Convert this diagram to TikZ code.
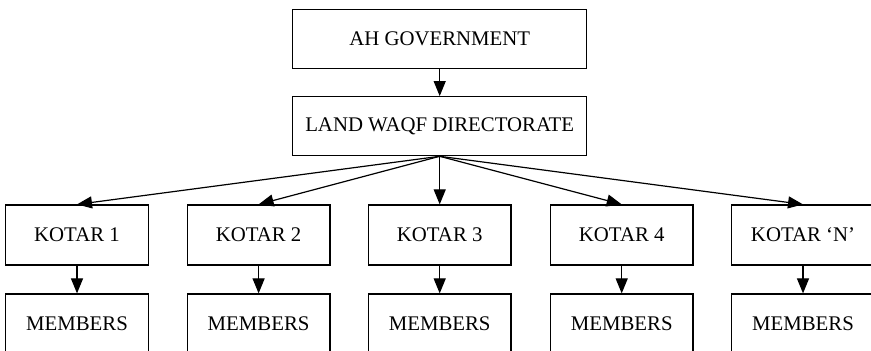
\documentclass[tikz,border=0pt]{standalone}
\usepackage{fontspec}
\setmainfont{Liberation Serif}
\usetikzlibrary{arrows.meta}
\begin{document}
\begin{tikzpicture}[x=0.5pt,y=-0.5pt,
  box/.style={draw,line width=0.6pt,inner sep=0pt,font=\fontsize{10.4}{12}\selectfont},
  wide/.style={box,minimum width=147pt,minimum height=29.5pt},
  unit/.style={box,minimum width=71.3pt,minimum height=30pt},
  link/.style={line width=0.6pt,-{Triangle[length=7.5pt,width=6pt]}}]
\useasboundingbox (0,0) rectangle (871,351);
\clip (0,0) rectangle (871,351);
\node[wide] (gov) at (439.7,38.8) {AH GOVERNMENT};
\node[wide] (dir) at (439.7,126.2) {LAND WAQF DIRECTORATE};
\foreach \i/\x/\t in {1/77/KOTAR 1, 2/258.6/KOTAR 2, 3/439.7/KOTAR 3, 4/621.7/KOTAR 4, 5/803/KOTAR ‘N’}{
  \node[unit] (k\i) at (\x,235) {\t};
  \node[unit] (m\i) at (\x,324) {MEMBERS};
  \draw[link] (dir.south) -- (k\i.north);
  \draw[link] (k\i.south) -- (m\i.north);
}
\draw[link] (gov.south) -- (dir.north);
\end{tikzpicture}
\end{document}
